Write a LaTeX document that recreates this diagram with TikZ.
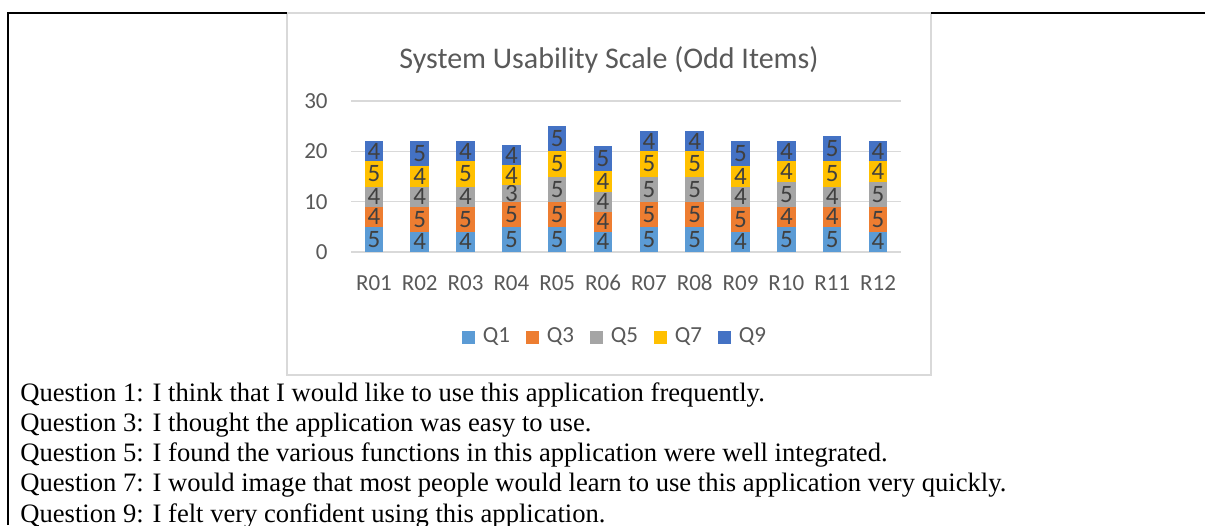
\documentclass[tikz,border=0pt]{standalone}
\usepackage{fontspec}
\setmainfont{Liberation Serif}
\newfontfamily\chartfont{Carlito}
\usetikzlibrary{positioning}
\definecolor{seg1}{HTML}{5B9BD5}
\definecolor{seg2}{HTML}{ED7D31}
\definecolor{seg3}{HTML}{A5A5A5}
\definecolor{seg4}{HTML}{FFC000}
\definecolor{seg5}{HTML}{4472C4}
\definecolor{gridgray}{HTML}{D9D9D9}
\definecolor{axisgray}{HTML}{595959}
\definecolor{labelgray}{HTML}{404040}

\begin{document}
\begin{tikzpicture}[x=0.5pt, y=-0.5pt,
				segment/.style = {rectangle, inner sep=0pt, outer sep=0pt, minimum width=9.25pt, text=labelgray, font=\chartfont\fontsize{12.5}{12.5}\selectfont},
				ticklabel/.style = {inner sep=0pt, text=axisgray, font=\chartfont\fontsize{11.5}{12}\selectfont},
				legendkey/.style = {rectangle, inner sep=0pt, minimum size=6.5pt},
				question/.style = {anchor=base west, inner sep=0pt, font=\fontsize{13.3}{15}\selectfont},
				gridline/.style = {gridgray, line width=0.75pt},
				tableline/.style = {black, line width=1pt},
			]
			\useasboundingbox (0,0) rectangle (1205,525);

			% chart area
			\draw[gridgray, line width=1pt] (287,12.5) rectangle (931,375);
			\draw[tableline] (8,525) -- (8,12.5) -- (287,12.5);
			\draw[tableline] (931,12.5) -- (1205,12.5);

			\node[text=axisgray, font=\chartfont\fontsize{15}{18}\selectfont] (title) at (609,60) {System Usability Scale (Odd Items)};

			\foreach \g in {0,10,20,30}{
				\draw[gridline] (351,252-5.033*\g) -- (901,252-5.033*\g);
				\node[ticklabel, anchor=east] (tick\g) at (328,252-5.033*\g) {\g};
			}

			% stacked bars, Q1 at the bottom
			\foreach \vals/\name [count=\i] in {{5,4,4,5,4}/R01, {4,5,4,4,5}/R02, {4,5,4,5,4}/R03, {5,5,3,4,4}/R04,
				{5,5,5,5,5}/R05, {4,4,4,4,5}/R06, {5,5,5,5,4}/R07, {5,5,5,5,4}/R08,
				{4,5,4,4,5}/R09, {5,4,5,4,4}/R10, {5,4,4,5,5}/R11, {4,5,5,4,4}/R12}{
				\pgfmathsetmacro\bx{351+45.83*(\i-0.5)}
				\foreach \v [count=\k] in \vals {
					\pgfmathtruncatemacro\prev{\k-1}
					\ifnum\k=1
						\node[segment, fill=seg\k, minimum height=\v*2.5167pt, anchor=south] (s\i-\k) at (\bx,252) {\v};
					\else
						\node[segment, fill=seg\k, minimum height=\v*2.5167pt, above=0pt of s\i-\prev] (s\i-\k) {\v};
					\fi
				}
				\node[ticklabel] (cat\i) at (\bx,283) {\name};
			}

			% legend
			\foreach \q [count=\k] in {Q1,Q3,Q5,Q7,Q9}{
				\node[legendkey, fill=seg\k] (key\k) at (468.5+64*\k-64,337) {};
				\node[ticklabel, right=3.5pt of key\k] (leg\k) {\q};
			}

			\node[question] (line1) at (20,401) {Question 1: I think that I would like to use this application frequently.};
			\node[question] (line3) at (20,431) {Question 3: I thought the application was easy to use.};
			\node[question] (line5) at (20,461) {Question 5: I found the various functions in this application were well integrated.};
			\node[question] (line7) at (20,491) {Question 7: I would image that most people would learn to use this application very quickly.};
			\node[question] (line9) at (20,522) {Question 9: I felt very confident using this application.};

		\end{tikzpicture}
\end{document}
